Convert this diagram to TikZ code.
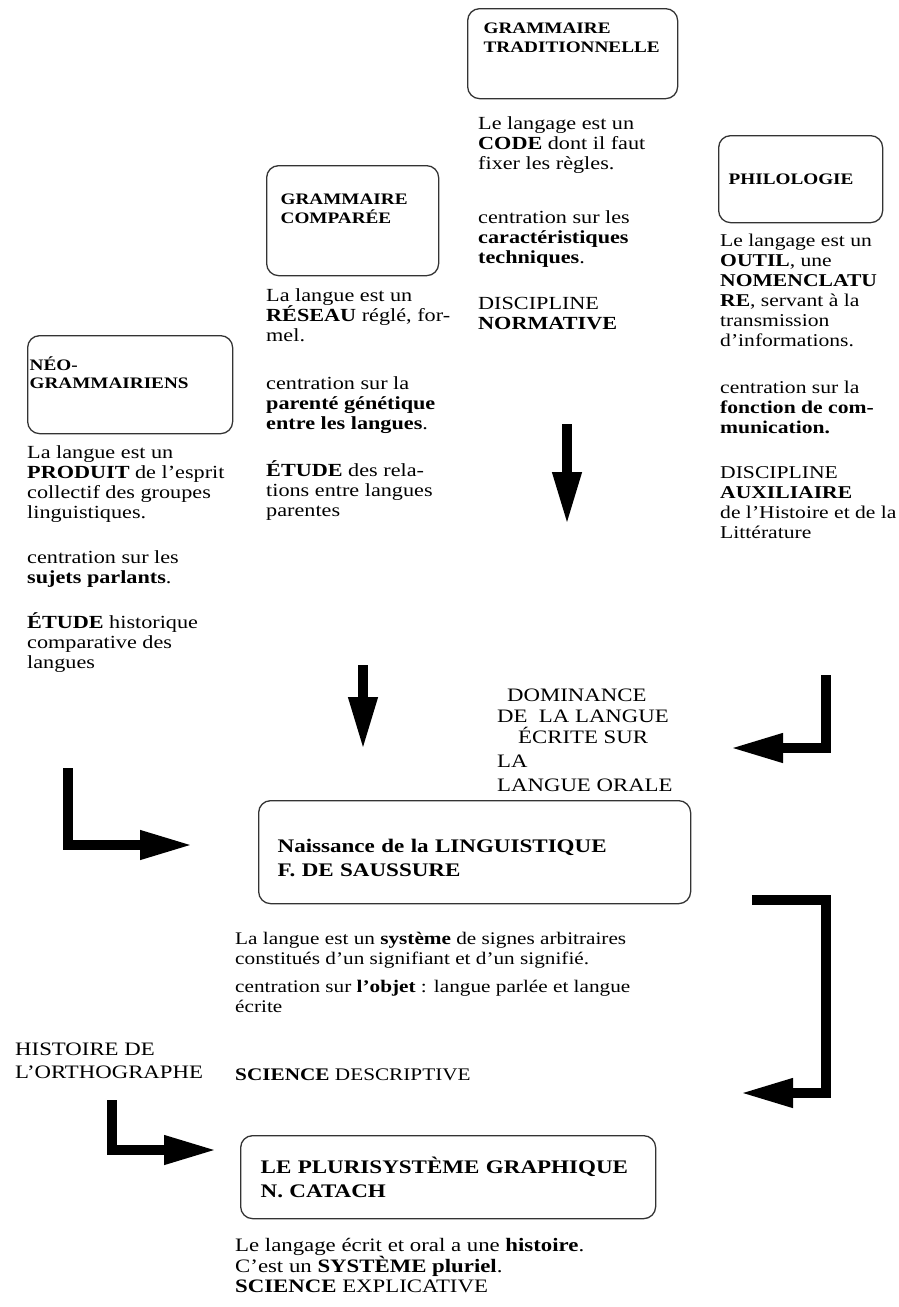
\documentclass[tikz,border=0pt]{standalone}
\usepackage{fontspec}
\setmainfont{Liberation Serif}[FakeStretch=1.2]
\usetikzlibrary{arrows.meta,positioning}

\begin{document}
\begin{tikzpicture}[
  x=1pt, y=-1pt,
  headbox/.style={draw=black!80, line width=1.3pt, rounded corners=12pt, align=left, anchor=north west, font=\bfseries\fontsize{16}{18.5}\selectfont},
  bigbox/.style={headbox, font=\bfseries\fontsize{19.2}{24}\selectfont},
  body/.style={align=left, inner sep=0pt, font=\fontsize{18.5}{20}\selectfont},
  caps/.style={align=left, inner sep=0pt, anchor=north west, font=\fontsize{19}{21}\selectfont},
  fatarrow/.style={line width=10pt, line join=miter, -{Triangle[length=53pt, width=27pt]}},
]
  \useasboundingbox (0,0) rectangle (899,1307);

  % the four schools
  \node[headbox, text width=178pt, inner xsep=16pt, minimum height=90pt] (trad) at (467,8) {GRAMMAIRE\\TRADITIONNELLE\\[8pt]\strut};
  \node[headbox, text width=144pt, inner xsep=14pt, minimum height=110pt] (comp) at (266,165) {GRAMMAIRE\\COMPARÉE\\\strut};
  \node[headbox, text width=201pt, inner xsep=2pt, minimum height=98pt] (neo) at (27,335) {NÉO-\\GRAMMAIRIENS\\\strut};
  \node[headbox, text width=144pt, inner xsep=10pt, minimum height=87pt] (philo) at (718,135) {PHILOLOGIE};

  \node[body, below right=17pt and 11pt of trad.south west] (tradtxt) {Le langage est un\\ \textbf{CODE} dont il faut\\ fixer les règles.\\[34pt]
    centration sur les\\ \textbf{caractéristiques}\\ \textbf{techniques}.\\[26pt]
    DISCIPLINE\\ \textbf{NORMATIVE}};
  \node[body, below right=12pt and 0pt of comp.south west] (comptxt) {La langue est un\\ \textbf{RÉSEAU} réglé, for-\\ mel.\\[28pt]
    centration sur la\\ \textbf{parenté génétique}\\ \textbf{entre les langues}.\\[27pt]
    \textbf{ÉTUDE} des rela-\\ tions entre langues\\ parentes};
  \node[body, below right=11pt and 0pt of neo.south west] (neotxt) {La langue est un\\ \textbf{PRODUIT} de l'esprit\\ collectif des groupes\\ linguistiques.\\[25pt]
    centration sur les\\ \textbf{sujets parlants}.\\[25pt]
    \textbf{ÉTUDE} historique\\ comparative des\\ langues};
  \node[body, font=\fontsize{18}{20}\selectfont, below right=11pt and 2pt of philo.south west] (philotxt) {Le langage est un\\ \textbf{OUTIL}, une\\ \textbf{NOMENCLATU}\\ \textbf{RE}, servant à la\\ transmission\\ d'informations.\\[27pt]
    centration sur la\\ \textbf{fonction de com-}\\ \textbf{munication.}\\[25pt]
    DISCIPLINE\\ \textbf{AUXILIAIRE}\\ de l'Histoire et de la\\ Littérature};

  \node[caps] (domin) at (497,689) {\hspace{10pt}DOMINANCE\\ DE\ \ LA LANGUE\\ \hspace{21pt}ÉCRITE SUR\\[3pt] LA\\[3pt] LANGUE ORALE};

  % Saussure and Catach
  \node[bigbox, text width=394pt, inner xsep=19pt, minimum height=103pt] (sauss) at (258,800) {\rule{0pt}{24pt}Naissance de la LINGUISTIQUE\\F. DE SAUSSURE};
  \node[body, font=\fontsize{17.7}{20}\selectfont, below right=28pt and -23pt of sauss.south west] (sausstxt) {La langue est un \textbf{système} de signes arbitraires\\ constitués d'un signifiant et d'un signifié.\\[8pt]
    centration sur \textbf{l'objet} : langue parlée et langue\\ écrite\\[48pt]
    \textbf{SCIENCE} DESCRIPTIVE};
  \node[caps, font=\fontsize{19}{23}\selectfont] (histo) at (15,1043) {HISTOIRE DE\\ L'ORTHOGRAPHE};
  \node[bigbox, text width=375pt, inner xsep=20pt, minimum height=83pt] (catach) at (240,1135) {LE PLURISYSTÈME GRAPHIQUE\\N. CATACH};
  \node[body, font=\fontsize{19}{20.5}\selectfont, below right=19pt and -5pt of catach.south west] (catachtxt) {Le langage écrit et oral a une \textbf{histoire}.\\ C'est un \textbf{SYSTÈME pluriel}.\\ \textbf{SCIENCE} EXPLICATIVE};

  % arrows
  \coordinate (tradarr) at (567,424);
  \coordinate (tradend) at (567,525);
  \coordinate (comparr) at (363,665);
  \coordinate (compend) at (363,750);
  \coordinate (philarr) at (826,675);
  \coordinate (philend) at (730,748);
  \coordinate (neoarr) at (68,768);
  \coordinate (neoend) at (193,845);
  \coordinate (saussarr) at (752,900);
  \coordinate (catarr) at (740,1093);
  \coordinate (histarr) at (112,1100);
  \coordinate (histend) at (217,1150);

  \draw[fatarrow] (tradarr) -- (tradend);
  \draw[fatarrow] (comparr) -- (compend);
  \draw[fatarrow] (philarr) |- (philend);
  \draw[fatarrow] (neoarr) |- (neoend);
  \draw[fatarrow] (saussarr) -| ([xshift=86pt]catarr) -- (catarr);
  \draw[fatarrow] (histarr) |- (histend);
\end{tikzpicture}
\end{document}
